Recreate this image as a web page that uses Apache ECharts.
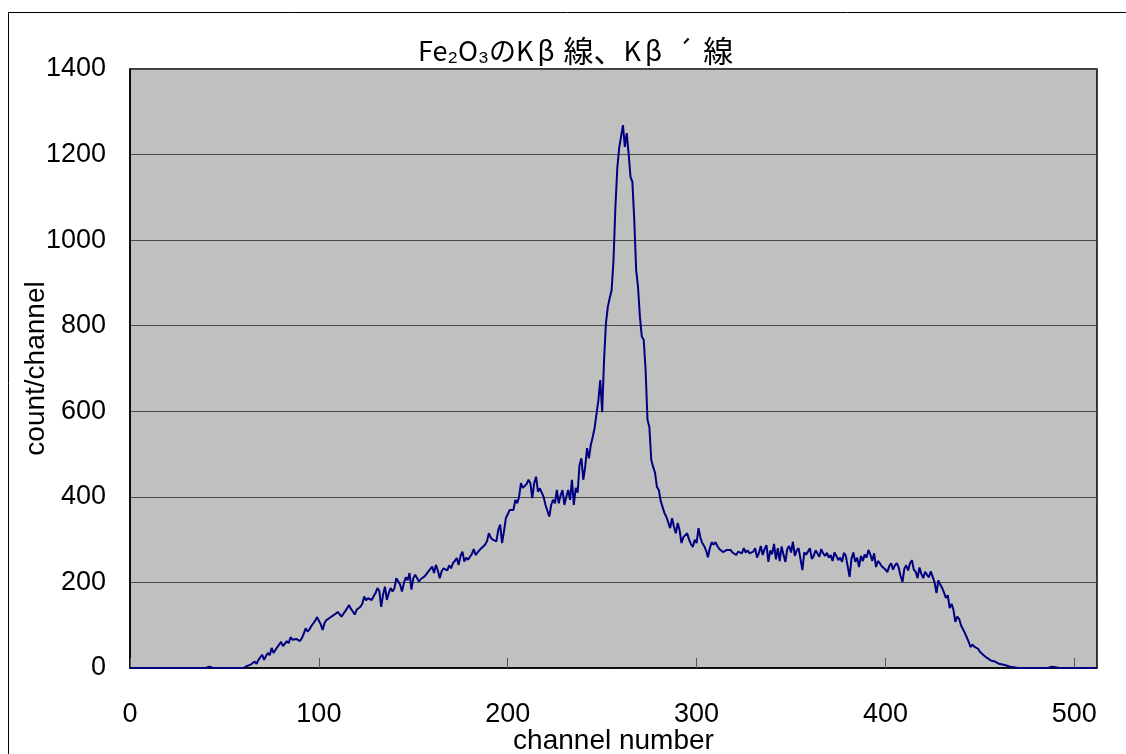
<!DOCTYPE html>
<html>
<head>
<meta charset="utf-8">
<script src="https://cdn.jsdelivr.net/npm/echarts@6/dist/echarts.min.js"></script>
<style>html,body{margin:0;padding:0;background:#fff}#c{width:1126px;height:754px}</style>
</head>
<body>
<div id="c"></div>
<script>
const titleParts = ['Fe\u2082O\u2083のK', 'β', '線、', 'K', 'β', '´', '線'];
const xName = 'channel number';
const yName = 'count/channel';
const yTicks = [0, 200, 400, 600, 800, 1000, 1200, 1400];
const xTicks = [0, 100, 200, 300, 400, 500];
// counts per channel, channel = index (0..511)
const counts = [
0,0,0,0,0,0,0,0,0,0,
0,0,0,0,0,0,0,0,0,0,
0,0,0,0,0,0,0,0,0,0,
0,0,0,0,0,0,0,0,0,0,
0,0,3,0,0,0,0,0,0,0,
0,3,0,0,0,2,0,3,0,0,
0,3,5,4,8,12,15,10,19,17,
31,19,28,35,30,47,35,42,49,45,
61,51,55,63,58,72,66,70,68,71,
63,70,80,93,85,90,98,104,110,119,
119,102,89,105,112,116,118,114,124,128,
131,132,120,127,133,140,147,138,132,125,
136,140,143,150,167,158,163,163,159,168,
175,187,180,143,172,190,159,175,187,179,
186,210,206,195,179,198,212,205,222,183,
210,218,222,202,208,212,214,220,226,230,
237,222,241,228,210,226,233,233,228,240,
233,245,250,257,241,262,272,249,258,253,
260,266,278,264,270,272,280,283,288,296,
315,305,300,298,296,323,335,292,319,350,
354,369,365,369,393,385,400,432,421,424,
430,440,432,397,432,447,412,420,416,400,
381,385,354,381,393,385,416,385,404,416,
381,400,416,393,440,381,421,410,474,490,
440,470,514,490,522,540,561,561,626,673,
598,720,806,844,865,883,953,1077,1168,1215,
1215,1269,1218,1250,1203,1148,1136,1047,930,890,
820,774,767,696,580,563,486,470,456,423,
416,390,376,362,353,353,327,350,330,315,
339,322,292,306,306,315,300,290,283,300,
292,327,305,292,285,275,259,280,294,288,
294,285,278,275,271,268,276,272,276,270,
266,264,272,270,268,280,270,275,268,264,
272,280,258,269,285,264,278,287,248,275,
266,290,254,280,250,284,265,248,278,285,
270,295,262,275,280,255,229,270,265,268,
280,255,262,275,271,260,278,268,262,269,
258,264,250,270,262,252,258,248,269,262,
264,213,255,270,248,258,236,262,250,265,
258,276,265,250,268,236,250,245,238,240,
230,224,238,245,230,240,245,235,215,201,
232,240,228,245,252,230,225,210,235,220,
210,225,218,212,226,213,200,175,205,195,
187,176,164,170,140,150,136,108,120,115,
100,104,82,78,62,49,55,50,47,45,
38,35,30,28,23,20,17,14,15,12,
10,7,8,5,6,5,3,4,2,1,
0,0,0,0,0,0,0,0,0,0,
0,0,0,0,0,0,0,3,3,3,
2,0,0,0,0,0,0,0,0,0,
0,0,0,0,0,0,0,0,0,0,
0,0
];
const seriesData = counts.map((v, i) => [i, v]);

const chart = echarts.init(document.getElementById('c'));
const cjk = '"Noto Sans CJK JP", "Liberation Sans", sans-serif';
const latin = '"Liberation Sans", Arial, sans-serif';
const titleRich = '{a|' + titleParts[0] + '}{g|' + titleParts[1] + '}{k|' + titleParts[2] + '}{a|' +
  titleParts[3] + '}{g|' + titleParts[4] + '}{p|' + titleParts[5] + '}{k|' + titleParts[6] + '}';
chart.setOption({
  animation: false,
  backgroundColor: '#ffffff',
  graphic: [{
    type: 'rect', z: -10,
    shape: { x: 8.5, y: 12.5, width: 1140, height: 760 },
    style: { fill: 'none', stroke: '#000', lineWidth: 1 }
  }],
  title: {
    text: titleRich,
    left: 413, top: 31,
    textStyle: {
      fontFamily: cjk, fontSize: 27, fontWeight: 'normal', color: '#000',
      rich: {
        a: { fontFamily: cjk, fontSize: 27, color: '#000' },
        g: { fontFamily: cjk, fontSize: 27, color: '#000', padding: [0, 9, 0, 4] },
        k: { fontFamily: cjk, fontSize: 30, color: '#000' },
        p: { fontFamily: cjk, fontSize: 27, color: '#000', padding: [0, 10, 0, 6] }
      }
    }
  },
  grid: {
    left: 130, top: 69, right: 29, bottom: 86,
    outerBoundsMode: 'none',
    show: true, backgroundColor: '#C0C0C0', borderColor: '#000', borderWidth: 1.5
  },
  xAxis: {
    type: 'value', min: 0, max: 512, interval: 100,
    name: xName, nameLocation: 'middle', nameGap: 59, nameMoveOverlap: false,
    nameTextStyle: { fontFamily: latin, fontSize: 28, color: '#000' },
    axisLine: { show: true, onZero: false, lineStyle: { color: '#000', width: 1.5 } },
    axisTick: { show: true, inside: true, length: 10, lineStyle: { color: '#555' } },
    axisLabel: {
      showMaxLabel: false, margin: 33, fontFamily: latin, fontSize: 27, color: '#000',
      formatter: v => (xTicks.indexOf(v) >= 0 ? String(v) : '')
    },
    splitLine: { show: false }
  },
  yAxis: {
    type: 'value', min: 0, max: 1400, interval: 200,
    name: yName, nameLocation: 'middle', nameGap: 80, nameRotate: 90, nameMoveOverlap: false,
    nameTextStyle: { fontFamily: latin, fontSize: 28, color: '#000' },
    axisLine: { show: true, lineStyle: { color: '#000', width: 1.5 } },
    axisTick: { show: false },
    axisLabel: {
      margin: 24, fontFamily: latin, fontSize: 27, color: '#000', padding: [10, 0, 0, 0],
      formatter: v => (yTicks.indexOf(v) >= 0 ? String(v) : '')
    },
    splitLine: { show: true, lineStyle: { color: '#4a4a4a', width: 1 } }
  },
  series: [{
    type: 'line', data: seriesData, showSymbol: false, symbol: 'none',
    lineStyle: { color: '#000080', width: 2 }, itemStyle: { color: '#000080' }
  }]
});
</script>
</body>
</html>
